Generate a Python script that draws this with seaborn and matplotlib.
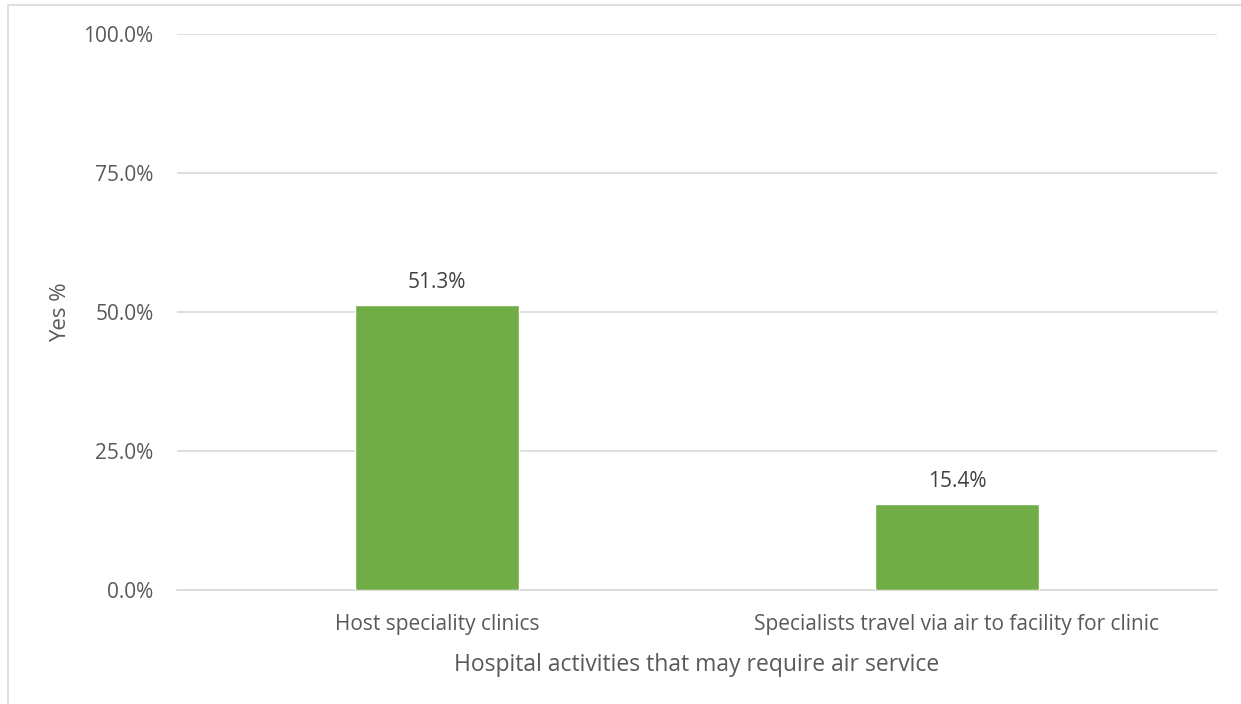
import matplotlib
matplotlib.use("Agg")
import matplotlib.pyplot as plt
import seaborn as sns
import pandas as pd
from matplotlib.lines import Line2D

categories = ["Host speciality clinics", "Specialists travel via air to facility for clinic"]
values = [51.3, 15.4]
yticks = [0, 25, 50, 75, 100]
ytick_labels = ["0.0%", "25.0%", "50.0%", "75.0%", "100.0%"]

sns.set_theme(style="white")
plt.rcParams['font.family'] = ['Open Sans', 'DejaVu Sans']
txt = "#595959"

df = pd.DataFrame({"cat": categories, "val": values})
fig = plt.figure(figsize=(12.41, 7.04), dpi=100)
ax = fig.add_axes([177/1241, (704-590)/704, (1217-177)/1241, (590-34)/704])
sns.barplot(data=df, x="cat", y="val", color="#70AD47", width=0.314, saturation=1, ax=ax, zorder=3)
ax.set_ylim(0, 100)
ax.set_xlim(-0.5, 1.5)
ax.set_yticks(yticks)
ax.set_yticklabels(ytick_labels, color=txt, fontsize=15)
ax.tick_params(axis='x', colors=txt, labelsize=15, length=0, pad=17)
ax.tick_params(axis='y', length=0, pad=17)
for lbl in ax.get_xticklabels():
    lbl.set_color(txt)
ax.grid(axis='y', color="#D9D9D9", linewidth=1.2, zorder=0)
for s in ["top", "right", "left"]:
    ax.spines[s].set_visible(False)
ax.spines["bottom"].set_color("#D9D9D9")
ax.spines["bottom"].set_linewidth(1.2)
ax.set_xlabel("Hospital activities that may require air service", color=txt, fontsize=16.5, labelpad=13)
ax.set_ylabel("Yes %", color=txt, fontsize=16, labelpad=9)
for i, v in enumerate(values):
    ax.text(i, v + 2.2, f"{v:.1f}%", ha="center", va="bottom", color="#404040", fontsize=15)

fig.add_artist(Line2D([8/1241, 8/1241], [0, 1-5/704], transform=fig.transFigure, color="#D9D9D9", lw=1.2))
fig.add_artist(Line2D([8/1241, 1], [1-5/704, 1-5/704], transform=fig.transFigure, color="#D9D9D9", lw=1.2))
fig.savefig("out.png", dpi=100)
